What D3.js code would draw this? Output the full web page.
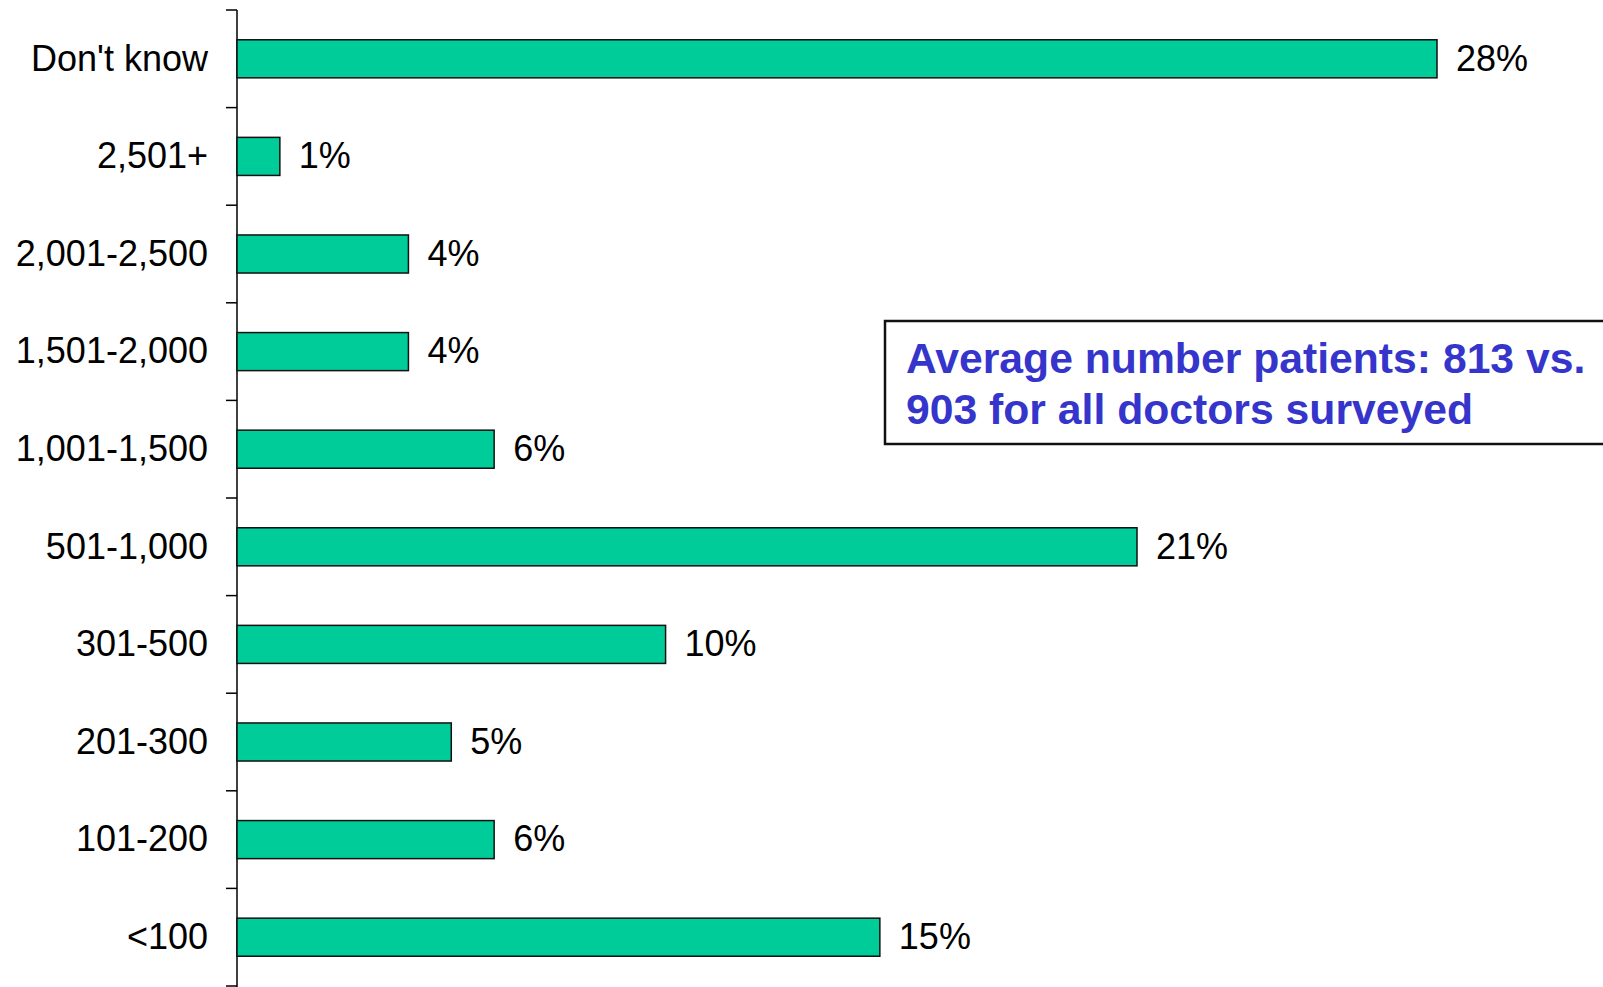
<!DOCTYPE html>
<html>
<head>
<meta charset="utf-8">
<script src="https://cdn.jsdelivr.net/npm/d3@7"></script>
<style>
  html, body { margin: 0; padding: 0; background: #fff; }
  svg { display: block; }
</style>
</head>
<body>
<svg id="chart" width="1603" height="987"></svg>
<script>
const categories = ["Don't know", "2,501+", "2,001-2,500", "1,501-2,000", "1,001-1,500", "501-1,000", "301-500", "201-300", "101-200", "<100"];
const values = [28, 1, 4, 4, 6, 21, 10, 5, 6, 15];
const valueLabels = ["28%", "1%", "4%", "4%", "6%", "21%", "10%", "5%", "6%", "15%"];
const noteLines = ["Average number patients: 813 vs.", "903 for all doctors surveyed"];

const svg = d3.select("#chart");
const fontFamily = "'Liberation Sans', Arial, sans-serif";

const x = d3.scaleLinear().domain([0, 28]).range([237, 1437]);
const y = d3.scaleBand().domain(categories).range([10, 986])
  .paddingInner(0.61).paddingOuter(0.305);
const step = y.step();
const y0 = y.range()[0];

// axis line
svg.append("line")
  .attr("x1", x(0)).attr("x2", x(0))
  .attr("y1", y0).attr("y2", 987)
  .attr("stroke", "#000").attr("stroke-width", 1.5);

// tick marks at band boundaries
const boundaries = d3.range(categories.length + 1);
svg.selectAll("line.tick").data(boundaries).join("line")
  .attr("class", "tick")
  .attr("x1", x(0) - 11).attr("x2", x(0))
  .attr("y1", i => y0 + i * step).attr("y2", i => y0 + i * step)
  .attr("stroke", "#000").attr("stroke-width", 1.5);

// bars
svg.selectAll("rect.bar").data(categories).join("rect")
  .attr("class", "bar")
  .attr("x", x(0))
  .attr("y", d => y(d))
  .attr("width", (d, i) => x(values[i]) - x(0))
  .attr("height", y.bandwidth())
  .attr("fill", "#00CC99")
  .attr("stroke", "#111")
  .attr("stroke-width", 1.5);

// category labels
svg.selectAll("text.cat").data(categories).join("text")
  .attr("class", "cat")
  .attr("x", 208)
  .attr("y", d => y(d) + y.bandwidth() / 2)
  .attr("dy", "0.33em")
  .attr("text-anchor", "end")
  .attr("font-family", fontFamily)
  .attr("font-size", 36)
  .attr("fill", "#000")
  .text(d => d);

// value labels
svg.selectAll("text.val").data(categories).join("text")
  .attr("class", "val")
  .attr("x", (d, i) => x(values[i]) + 19)
  .attr("y", d => y(d) + y.bandwidth() / 2)
  .attr("dy", "0.33em")
  .attr("font-family", fontFamily)
  .attr("font-size", 36)
  .attr("fill", "#000")
  .text((d, i) => valueLabels[i]);

// annotation box
svg.append("rect")
  .attr("x", 885).attr("y", 321)
  .attr("width", 760).attr("height", 123)
  .attr("fill", "#fff")
  .attr("stroke", "#111").attr("stroke-width", 2.5);

svg.selectAll("text.note").data(noteLines).join("text")
  .attr("class", "note")
  .attr("x", 906)
  .attr("y", (d, i) => 373 + i * 51)
  .attr("font-family", fontFamily)
  .attr("font-weight", "bold")
  .attr("font-size", 42.7)
  .attr("fill", "#3535CC")
  .text(d => d);
</script>
</body>
</html>
